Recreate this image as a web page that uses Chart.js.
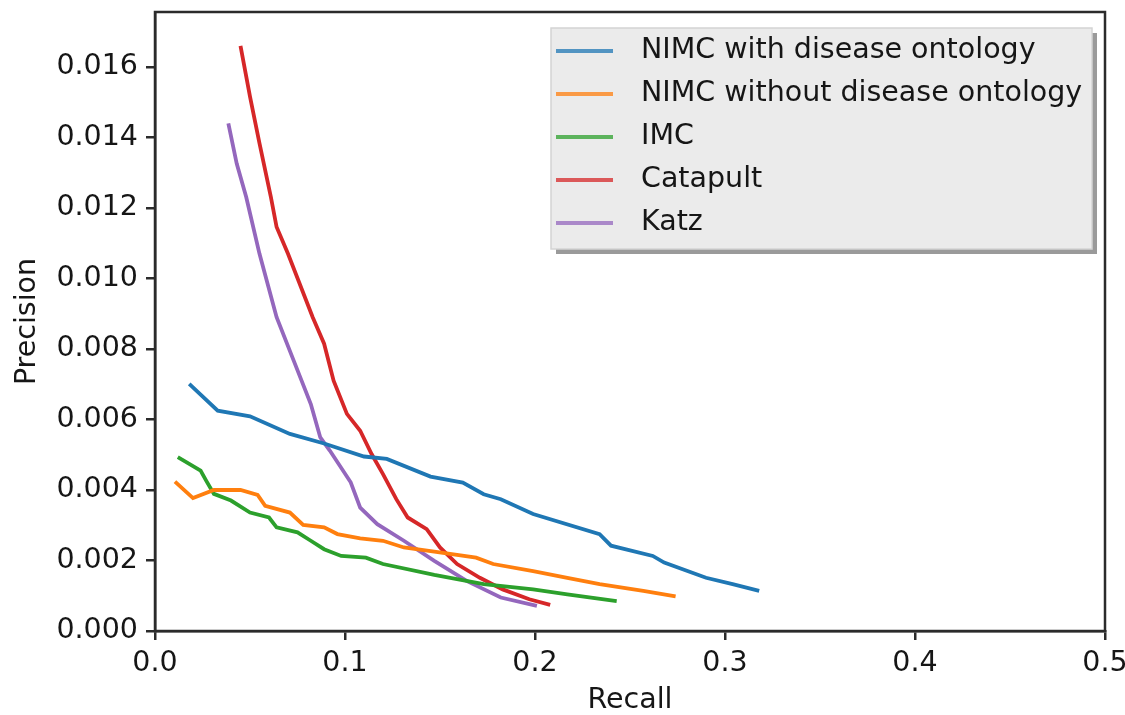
<!DOCTYPE html>
<html>
<head>
<meta charset="utf-8">
<script src="https://cdn.jsdelivr.net/npm/chart.js@4"></script>
<style>
  html, body { margin: 0; padding: 0; background: #fff; }
  #wrap { width: 1125px; height: 715px; }
</style>
</head>
<body>
<div id="wrap"><canvas id="prChart" width="1125" height="715"></canvas></div>
<script>
// precision / recall curves per method
const seriesNames = ['NIMC with disease ontology', 'NIMC without disease ontology', 'IMC', 'Catapult', 'Katz'];
const seriesColors = ['#1f77b4', '#ff7f0e', '#2ca02c', '#d62728', '#9467bd'];

const nimcDoRecall = [0.018, 0.033, 0.050, 0.071, 0.089, 0.110, 0.122, 0.145, 0.162, 0.173, 0.182, 0.199, 0.234, 0.240, 0.262, 0.268, 0.290, 0.304, 0.318];
const nimcDoPrecision = [0.00701, 0.00625, 0.00609, 0.00559, 0.00532, 0.00495, 0.00488, 0.00438, 0.00421, 0.00388, 0.00374, 0.00332, 0.00275, 0.00242, 0.00213, 0.00194, 0.00151, 0.00133, 0.00114];

const nimcRecall = [0.0105, 0.020, 0.031, 0.045, 0.054, 0.058, 0.071, 0.078, 0.089, 0.096, 0.108, 0.120, 0.131, 0.147, 0.169, 0.178, 0.199, 0.217, 0.234, 0.257, 0.274];
const nimcPrecision = [0.00424, 0.00377, 0.00400, 0.00400, 0.00386, 0.00355, 0.00336, 0.00301, 0.00294, 0.00275, 0.00263, 0.00256, 0.00237, 0.00225, 0.00208, 0.00190, 0.00170, 0.00151, 0.00133, 0.00114, 0.00098];

const imcRecall = [0.012, 0.024, 0.027, 0.031, 0.040, 0.050, 0.060, 0.064, 0.075, 0.082, 0.089, 0.098, 0.111, 0.120, 0.147, 0.173, 0.199, 0.217, 0.243];
const imcPrecision = [0.00493, 0.00455, 0.00426, 0.00389, 0.00370, 0.00336, 0.00322, 0.00294, 0.00280, 0.00256, 0.00232, 0.00213, 0.00208, 0.00190, 0.00159, 0.00133, 0.00118, 0.00104, 0.00085];

const catapultRecall = [0.045, 0.050, 0.055, 0.061, 0.064, 0.070, 0.083, 0.089, 0.094, 0.101, 0.108, 0.114, 0.120, 0.127, 0.133, 0.143, 0.150, 0.159, 0.171, 0.183, 0.197, 0.208];
const catapultPrecision = [0.0166, 0.01516, 0.01383, 0.01231, 0.01146, 0.0107, 0.0089, 0.00815, 0.0071, 0.00616, 0.00568, 0.00502, 0.00445, 0.00374, 0.00322, 0.00289, 0.00237, 0.00190, 0.00151, 0.00118, 0.00090, 0.00074];

const katzRecall = [0.0386, 0.043, 0.048, 0.055, 0.064, 0.073, 0.082, 0.087, 0.092, 0.103, 0.108, 0.117, 0.131, 0.147, 0.164, 0.182, 0.201];
const katzPrecision = [0.0144, 0.01326, 0.01231, 0.0107, 0.0089, 0.00767, 0.00644, 0.00549, 0.00512, 0.00422, 0.00350, 0.00303, 0.00256, 0.00199, 0.00142, 0.00095, 0.00071];

const yTicks = [0, 0.002, 0.004, 0.006, 0.008, 0.010, 0.012, 0.014, 0.016];
const xTicks = [0, 0.1, 0.2, 0.3, 0.4, 0.5];

const recalls = [nimcDoRecall, nimcRecall, imcRecall, catapultRecall, katzRecall];
const precisions = [nimcDoPrecision, nimcPrecision, imcPrecision, catapultPrecision, katzPrecision];

function toPoints(xs, ys) {
    return xs.map(function(x, i) { return { x: x, y: ys[i] }; });
}

const FONT = 'DejaVu Sans';
const FONT_SIZE = 28.5;
const AXIS_COLOR = '#2b2b2b';
const TEXT_COLOR = '#161616';

// frame around the plot area plus the boxed legend in the top right
const framePlugin = {
    id: 'frame',
    afterDraw: function(chart) {
        const ctx = chart.ctx;
        const a = chart.chartArea;
        ctx.save();
        ctx.strokeStyle = AXIS_COLOR;
        ctx.lineWidth = 2.5;
        ctx.strokeRect(a.left, a.top, a.right - a.left, a.bottom - a.top);

        // legend box with drop shadow
        const bx = 551, by = 28, bw = 541, bh = 221;
        ctx.fillStyle = '#9a9a9a';
        ctx.fillRect(bx + 5, by + 5, bw, bh);
        ctx.fillStyle = '#ebebeb';
        ctx.fillRect(bx, by, bw, bh);
        ctx.strokeStyle = '#d4d4d4';
        ctx.lineWidth = 1.5;
        ctx.strokeRect(bx, by, bw, bh);

        ctx.font = FONT_SIZE + 'px "' + FONT + '"';
        ctx.textBaseline = 'middle';
        ctx.textAlign = 'left';
        seriesNames.forEach(function(name, i) {
            const yy = 51 + i * 43;
            ctx.strokeStyle = seriesColors[i];
            ctx.globalAlpha = 0.75;
            ctx.lineWidth = 4;
            ctx.beginPath();
            ctx.moveTo(556, yy);
            ctx.lineTo(613, yy);
            ctx.stroke();
            ctx.globalAlpha = 1;
            ctx.fillStyle = TEXT_COLOR;
            ctx.fillText(name, 641, yy);
        });
        ctx.restore();
    }
};

// keep the plot area fixed regardless of how far the tick labels overhang
function fixPadding(scale) {
    scale.paddingTop = 0;
    scale.paddingBottom = 0;
    scale.paddingLeft = 0;
    scale.paddingRight = 0;
}

const ctx = document.getElementById('prChart').getContext('2d');

new Chart(ctx, {
    type: 'line',
    data: {
        datasets: seriesNames.map(function(name, i) {
            return {
                label: name,
                data: toPoints(recalls[i], precisions[i]),
                borderColor: seriesColors[i],
                backgroundColor: seriesColors[i],
                borderWidth: 3.8,
                pointRadius: 0,
                tension: 0,
                fill: false
            };
        })
    },
    options: {
        responsive: false,
        animation: false,
        layout: { padding: { top: 12, right: 20, left: 0, bottom: 0 } },
        plugins: {
            legend: { display: false },
            tooltip: { enabled: false }
        },
        scales: {
            x: {
                type: 'linear',
                min: 0,
                max: 0.5,
                afterBuildTicks: function(scale) {
                    scale.ticks = xTicks.map(function(v) { return { value: v }; });
                },
                afterFit: function(scale) {
                    scale.height = 84;
                    fixPadding(scale);
                },
                grid: {
                    drawOnChartArea: false,
                    color: AXIS_COLOR,
                    lineWidth: 2.5,
                    tickLength: 9
                },
                border: { color: AXIS_COLOR, width: 2.5 },
                ticks: {
                    color: TEXT_COLOR,
                    font: { family: FONT, size: FONT_SIZE },
                    padding: 6,
                    maxRotation: 0,
                    callback: function(v) { return v.toFixed(1); }
                },
                title: {
                    display: true,
                    text: 'Recall',
                    color: TEXT_COLOR,
                    font: { family: FONT, size: FONT_SIZE, lineHeight: 1.0 },
                    padding: { top: 4, bottom: 0 }
                }
            },
            y: {
                type: 'linear',
                min: 0,
                max: 0.01756,
                afterBuildTicks: function(scale) {
                    scale.ticks = yTicks.map(function(v) { return { value: v }; });
                },
                afterFit: function(scale) {
                    scale.width = 155;
                    fixPadding(scale);
                },
                grid: {
                    drawOnChartArea: false,
                    color: AXIS_COLOR,
                    lineWidth: 2.5,
                    tickLength: 9
                },
                border: { color: AXIS_COLOR, width: 2.5 },
                ticks: {
                    color: TEXT_COLOR,
                    font: { family: FONT, size: FONT_SIZE },
                    padding: 8,
                    callback: function(v) { return v.toFixed(3); }
                },
                title: {
                    display: true,
                    text: 'Precision',
                    color: TEXT_COLOR,
                    font: { family: FONT, size: FONT_SIZE },
                    padding: { top: 10, bottom: 0 }
                }
            }
        }
    },
    plugins: [framePlugin]
});
</script>
</body>
</html>
